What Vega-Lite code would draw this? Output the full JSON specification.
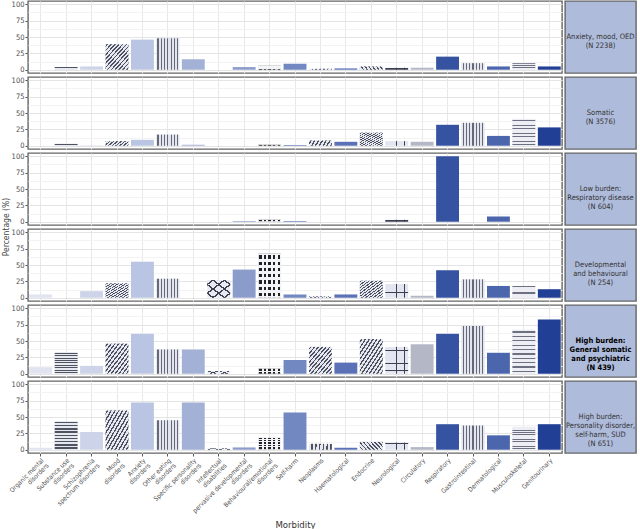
{
  "$schema": "https://vega.github.io/schema/vega-lite/v6.json",
  "padding": {"left": 1, "top": 0, "right": 1, "bottom": 1},
  "datasets": {
    "bars": [
      {"g":1,"c":"Organic mental|disorders","v":0},{"g":1,"c":"Substance use|disorders","v":4},{"g":1,"c":"Schizophrenia|spectrum disorders","v":5},{"g":1,"c":"Mood|disorders","v":39},{"g":1,"c":"Anxiety|disorders","v":46},{"g":1,"c":"Other eating|disorders","v":48},{"g":1,"c":"Specific personality|disorders","v":16},{"g":1,"c":"Intellectual|disabilities","v":0},{"g":1,"c":"pervasive developmental|disorders","v":4},{"g":1,"c":"Behavioural/emotional|disorders","v":6},{"g":1,"c":"Self-harm","v":9},{"g":1,"c":"Neoplasms","v":1.5},{"g":1,"c":"Haematological","v":2},{"g":1,"c":"Endocrine","v":5},{"g":1,"c":"Neurological","v":3},{"g":1,"c":"Circulatory","v":3},{"g":1,"c":"Respiratory","v":20},{"g":1,"c":"Gastrointestinal","v":10},{"g":1,"c":"Dermatological","v":5},{"g":1,"c":"Musculoskeletal","v":10},{"g":1,"c":"Genitourinary","v":5},
      {"g":2,"c":"Organic mental|disorders","v":0},{"g":2,"c":"Substance use|disorders","v":3},{"g":2,"c":"Schizophrenia|spectrum disorders","v":0.5},{"g":2,"c":"Mood|disorders","v":7},{"g":2,"c":"Anxiety|disorders","v":9},{"g":2,"c":"Other eating|disorders","v":17},{"g":2,"c":"Specific personality|disorders","v":1.5},{"g":2,"c":"Intellectual|disabilities","v":0},{"g":2,"c":"pervasive developmental|disorders","v":0},{"g":2,"c":"Behavioural/emotional|disorders","v":1.5},{"g":2,"c":"Self-harm","v":1},{"g":2,"c":"Neoplasms","v":8},{"g":2,"c":"Haematological","v":6},{"g":2,"c":"Endocrine","v":20},{"g":2,"c":"Neurological","v":7},{"g":2,"c":"Circulatory","v":6},{"g":2,"c":"Respiratory","v":32},{"g":2,"c":"Gastrointestinal","v":35},{"g":2,"c":"Dermatological","v":15},{"g":2,"c":"Musculoskeletal","v":41},{"g":2,"c":"Genitourinary","v":28},
      {"g":3,"c":"Organic mental|disorders","v":0},{"g":3,"c":"Substance use|disorders","v":0},{"g":3,"c":"Schizophrenia|spectrum disorders","v":0},{"g":3,"c":"Mood|disorders","v":0},{"g":3,"c":"Anxiety|disorders","v":0},{"g":3,"c":"Other eating|disorders","v":0},{"g":3,"c":"Specific personality|disorders","v":0},{"g":3,"c":"Intellectual|disabilities","v":0},{"g":3,"c":"pervasive developmental|disorders","v":1},{"g":3,"c":"Behavioural/emotional|disorders","v":3},{"g":3,"c":"Self-harm","v":1},{"g":3,"c":"Neoplasms","v":0},{"g":3,"c":"Haematological","v":0},{"g":3,"c":"Endocrine","v":0},{"g":3,"c":"Neurological","v":3},{"g":3,"c":"Circulatory","v":0},{"g":3,"c":"Respiratory","v":100},{"g":3,"c":"Gastrointestinal","v":0},{"g":3,"c":"Dermatological","v":8},{"g":3,"c":"Musculoskeletal","v":0},{"g":3,"c":"Genitourinary","v":0},
      {"g":4,"c":"Organic mental|disorders","v":5},{"g":4,"c":"Substance use|disorders","v":0},{"g":4,"c":"Schizophrenia|spectrum disorders","v":10},{"g":4,"c":"Mood|disorders","v":22},{"g":4,"c":"Anxiety|disorders","v":55},{"g":4,"c":"Other eating|disorders","v":29},{"g":4,"c":"Specific personality|disorders","v":0},{"g":4,"c":"Intellectual|disabilities","v":27},{"g":4,"c":"pervasive developmental|disorders","v":43},{"g":4,"c":"Behavioural/emotional|disorders","v":67},{"g":4,"c":"Self-harm","v":5},{"g":4,"c":"Neoplasms","v":2},{"g":4,"c":"Haematological","v":5},{"g":4,"c":"Endocrine","v":26},{"g":4,"c":"Neurological","v":21},{"g":4,"c":"Circulatory","v":3},{"g":4,"c":"Respiratory","v":42},{"g":4,"c":"Gastrointestinal","v":28},{"g":4,"c":"Dermatological","v":18},{"g":4,"c":"Musculoskeletal","v":18},{"g":4,"c":"Genitourinary","v":13},
      {"g":5,"c":"Organic mental|disorders","v":10},{"g":5,"c":"Substance use|disorders","v":33},{"g":5,"c":"Schizophrenia|spectrum disorders","v":12},{"g":5,"c":"Mood|disorders","v":46},{"g":5,"c":"Anxiety|disorders","v":61},{"g":5,"c":"Other eating|disorders","v":37},{"g":5,"c":"Specific personality|disorders","v":37},{"g":5,"c":"Intellectual|disabilities","v":4},{"g":5,"c":"pervasive developmental|disorders","v":0},{"g":5,"c":"Behavioural/emotional|disorders","v":8},{"g":5,"c":"Self-harm","v":21},{"g":5,"c":"Neoplasms","v":41},{"g":5,"c":"Haematological","v":17},{"g":5,"c":"Endocrine","v":53},{"g":5,"c":"Neurological","v":41},{"g":5,"c":"Circulatory","v":45},{"g":5,"c":"Respiratory","v":61},{"g":5,"c":"Gastrointestinal","v":73},{"g":5,"c":"Dermatological","v":32},{"g":5,"c":"Musculoskeletal","v":67},{"g":5,"c":"Genitourinary","v":83},
      {"g":6,"c":"Organic mental|disorders","v":3},{"g":6,"c":"Substance use|disorders","v":44},{"g":6,"c":"Schizophrenia|spectrum disorders","v":27},{"g":6,"c":"Mood|disorders","v":60},{"g":6,"c":"Anxiety|disorders","v":72},{"g":6,"c":"Other eating|disorders","v":45},{"g":6,"c":"Specific personality|disorders","v":72},{"g":6,"c":"Intellectual|disabilities","v":2},{"g":6,"c":"pervasive developmental|disorders","v":3.5},{"g":6,"c":"Behavioural/emotional|disorders","v":18},{"g":6,"c":"Self-harm","v":57},{"g":6,"c":"Neoplasms","v":9},{"g":6,"c":"Haematological","v":3},{"g":6,"c":"Endocrine","v":12},{"g":6,"c":"Neurological","v":11},{"g":6,"c":"Circulatory","v":4},{"g":6,"c":"Respiratory","v":39},{"g":6,"c":"Gastrointestinal","v":37},{"g":6,"c":"Dermatological","v":22},{"g":6,"c":"Musculoskeletal","v":35},{"g":6,"c":"Genitourinary","v":39}
    ],
    "strips": [
      {"g":1,"t":"Anxiety, mood, OED\n(N 2238)"},
      {"g":2,"t":"Somatic\n(N 3576)"},
      {"g":3,"t":"Low burden:\nRespiratory disease\n(N 604)"},
      {"g":4,"t":"Developmental\nand behavioural\n(N 254)"},
      {"g":5,"t":"High burden:\nGeneral somatic\nand psychiatric\n(N 439)"},
      {"g":6,"t":"High burden:\nPersonality disorder,\nself-harm, SUD\n(N 651)"}
    ]
  },
  "spacing": 1,
  "hconcat": [
    {
      "data": {"name": "bars"},
      "bounds": "flush",
      "facet": {"row": {"field": "g", "type": "ordinal", "title": "Percentage (%)",
        "header": {"labels": false, "labelPadding": 0, "titleOrient": "left", "titleFontSize": 8.5, "titleFontWeight": "normal", "titleColor": "#444", "titlePadding": -9}}},
      "spacing": {"row": 4},
      "spec": {
        "width": 534,
        "height": 72,
        "view": {"fill": "white", "stroke": "#666", "strokeWidth": 1.4},
        "encoding": {
          "x": {"field": "c", "type": "nominal", "title": "Morbidity",
            "scale": {"domain": ["Organic mental|disorders","Substance use|disorders","Schizophrenia|spectrum disorders","Mood|disorders","Anxiety|disorders","Other eating|disorders","Specific personality|disorders","Intellectual|disabilities","pervasive developmental|disorders","Behavioural/emotional|disorders","Self-harm","Neoplasms","Haematological","Endocrine","Neurological","Circulatory","Respiratory","Gastrointestinal","Dermatological","Musculoskeletal","Genitourinary"], "paddingInner": 0.1, "paddingOuter": 0.05},
            "axis": {"labelAngle": -45, "labelExpr": "split(datum.label, '|')", "grid": true, "bandPosition": 0.5, "labelFontSize": 6.5, "labelLineHeight": 7, "titlePadding": 1, "titleFontSize": 9.5, "labelPadding": 1}},
          "y": {"field": "v", "type": "quantitative", "title": null,
            "scale": {"domain": [-5, 105], "nice": false, "zero": false},
            "axis": {"values": [0, 12.5, 25, 37.5, 50, 62.5, 75, 87.5, 100],
              "labelExpr": "datum.value % 25 === 0 ? datum.label : ''",
              "tickOpacity": {"condition": {"test": "datum.value % 25 === 0", "value": 1}, "value": 0},
              "gridColor": {"condition": {"test": "datum.value % 25 === 0", "value": "#e4e4e4"}, "value": "#f3f3f3"},
              "labelFontSize": 7.5, "labelPadding": 1}}
        },
        "layer": [
          {"mark": {"type": "bar"},
           "encoding": {"color": {"field": "c", "type": "nominal", "legend": null,
             "scale": {"domain": ["Organic mental|disorders","Substance use|disorders","Schizophrenia|spectrum disorders","Mood|disorders","Anxiety|disorders","Other eating|disorders","Specific personality|disorders","Intellectual|disabilities","pervasive developmental|disorders","Behavioural/emotional|disorders","Self-harm","Neoplasms","Haematological","Endocrine","Neurological","Circulatory","Respiratory","Gastrointestinal","Dermatological","Musculoskeletal","Genitourinary"],
               "range": ["#e1e4f0","#e6e8f0","#cdd3e8","#e6e8f0","#b9c5e2","#e3e6ef","#a3b1d6","#e8eaf2","#8b9ccb","#222222","#7288c1","#e6e8f0","#5a71b7","#e6e8f0","#e3e6f0","#b3b7c6","#3553a1","#e3e6ef","#4b66ad","#eceef4","#213f94"]}}}},
          {"transform": [{"filter": {"field": "c", "oneOf": ["Other eating|disorders", "Gastrointestinal"]}}],
           "mark": {"type": "bar", "color": {"gradient": "linear", "x1": 0, "y1": 0, "x2": 1, "y2": 0, "stops": [
             {"offset":0,"color":"#e3e6ef"},
             {"offset":0.0464,"color":"#e3e6ef"},{"offset":0.0464,"color":"#646878"},{"offset":0.0964,"color":"#646878"},{"offset":0.0964,"color":"#e3e6ef"},
             {"offset":0.1893,"color":"#e3e6ef"},{"offset":0.1893,"color":"#646878"},{"offset":0.2393,"color":"#646878"},{"offset":0.2393,"color":"#e3e6ef"},
             {"offset":0.3321,"color":"#e3e6ef"},{"offset":0.3321,"color":"#646878"},{"offset":0.3821,"color":"#646878"},{"offset":0.3821,"color":"#e3e6ef"},
             {"offset":0.475,"color":"#e3e6ef"},{"offset":0.475,"color":"#646878"},{"offset":0.525,"color":"#646878"},{"offset":0.525,"color":"#e3e6ef"},
             {"offset":0.6179,"color":"#e3e6ef"},{"offset":0.6179,"color":"#646878"},{"offset":0.6679,"color":"#646878"},{"offset":0.6679,"color":"#e3e6ef"},
             {"offset":0.7607,"color":"#e3e6ef"},{"offset":0.7607,"color":"#646878"},{"offset":0.8107,"color":"#646878"},{"offset":0.8107,"color":"#e3e6ef"},
             {"offset":0.9036,"color":"#e3e6ef"},{"offset":0.9036,"color":"#646878"},{"offset":0.9536,"color":"#646878"},{"offset":0.9536,"color":"#e3e6ef"},
             {"offset":1,"color":"#e3e6ef"}]}}},
          {"transform": [{"filter": {"field": "c", "equal": "Substance use|disorders"}}],
           "mark": {"type": "bar", "color": {"gradient": "linear", "x1": 0, "y1": 0, "x2": 0, "y2": 1, "stops": [
             {"offset":0,"color":"#e6e8f0"},
             {"offset":0.0306,"color":"#e6e8f0"},{"offset":0.0306,"color":"#4f5260"},{"offset":0.0806,"color":"#4f5260"},{"offset":0.0806,"color":"#e6e8f0"},
             {"offset":0.1417,"color":"#e6e8f0"},{"offset":0.1417,"color":"#4f5260"},{"offset":0.1917,"color":"#4f5260"},{"offset":0.1917,"color":"#e6e8f0"},
             {"offset":0.2528,"color":"#e6e8f0"},{"offset":0.2528,"color":"#4f5260"},{"offset":0.3028,"color":"#4f5260"},{"offset":0.3028,"color":"#e6e8f0"},
             {"offset":0.3639,"color":"#e6e8f0"},{"offset":0.3639,"color":"#4f5260"},{"offset":0.4139,"color":"#4f5260"},{"offset":0.4139,"color":"#e6e8f0"},
             {"offset":0.475,"color":"#e6e8f0"},{"offset":0.475,"color":"#4f5260"},{"offset":0.525,"color":"#4f5260"},{"offset":0.525,"color":"#e6e8f0"},
             {"offset":0.5861,"color":"#e6e8f0"},{"offset":0.5861,"color":"#4f5260"},{"offset":0.6361,"color":"#4f5260"},{"offset":0.6361,"color":"#e6e8f0"},
             {"offset":0.6972,"color":"#e6e8f0"},{"offset":0.6972,"color":"#4f5260"},{"offset":0.7472,"color":"#4f5260"},{"offset":0.7472,"color":"#e6e8f0"},
             {"offset":0.8083,"color":"#e6e8f0"},{"offset":0.8083,"color":"#4f5260"},{"offset":0.8583,"color":"#4f5260"},{"offset":0.8583,"color":"#e6e8f0"},
             {"offset":0.9194,"color":"#e6e8f0"},{"offset":0.9194,"color":"#4f5260"},{"offset":0.9694,"color":"#4f5260"},{"offset":0.9694,"color":"#e6e8f0"},
             {"offset":1,"color":"#e6e8f0"}]}}},
          {"transform": [{"filter": {"field": "c", "equal": "Musculoskeletal"}}],
           "mark": {"type": "bar", "color": {"gradient": "linear", "x1": 0, "y1": 0, "x2": 0, "y2": 1, "stops": [
             {"offset":0,"color":"#eceef4"},
             {"offset":0.035,"color":"#eceef4"},{"offset":0.035,"color":"#6d7080"},{"offset":0.065,"color":"#6d7080"},{"offset":0.065,"color":"#eceef4"},
             {"offset":0.135,"color":"#eceef4"},{"offset":0.135,"color":"#6d7080"},{"offset":0.165,"color":"#6d7080"},{"offset":0.165,"color":"#eceef4"},
             {"offset":0.235,"color":"#eceef4"},{"offset":0.235,"color":"#6d7080"},{"offset":0.265,"color":"#6d7080"},{"offset":0.265,"color":"#eceef4"},
             {"offset":0.335,"color":"#eceef4"},{"offset":0.335,"color":"#6d7080"},{"offset":0.365,"color":"#6d7080"},{"offset":0.365,"color":"#eceef4"},
             {"offset":0.435,"color":"#eceef4"},{"offset":0.435,"color":"#6d7080"},{"offset":0.465,"color":"#6d7080"},{"offset":0.465,"color":"#eceef4"},
             {"offset":0.535,"color":"#eceef4"},{"offset":0.535,"color":"#6d7080"},{"offset":0.565,"color":"#6d7080"},{"offset":0.565,"color":"#eceef4"},
             {"offset":0.635,"color":"#eceef4"},{"offset":0.635,"color":"#6d7080"},{"offset":0.665,"color":"#6d7080"},{"offset":0.665,"color":"#eceef4"},
             {"offset":0.735,"color":"#eceef4"},{"offset":0.735,"color":"#6d7080"},{"offset":0.765,"color":"#6d7080"},{"offset":0.765,"color":"#eceef4"},
             {"offset":0.835,"color":"#eceef4"},{"offset":0.835,"color":"#6d7080"},{"offset":0.865,"color":"#6d7080"},{"offset":0.865,"color":"#eceef4"},
             {"offset":0.935,"color":"#eceef4"},{"offset":0.935,"color":"#6d7080"},{"offset":0.965,"color":"#6d7080"},{"offset":0.965,"color":"#eceef4"},
             {"offset":1,"color":"#eceef4"}]}}},
          {"transform": [{"filter": {"field": "c", "oneOf": ["Mood|disorders", "Neoplasms", "Endocrine"]}}],
           "mark": {"type": "bar", "color": {"gradient": "linear", "x1": 0, "y1": 0, "x2": 1, "y2": 1, "stops": [
             {"offset":0,"color":"#e6e8f0"},
             {"offset":0.025,"color":"#e6e8f0"},{"offset":0.025,"color":"#4c5060"},{"offset":0.0583,"color":"#4c5060"},{"offset":0.0583,"color":"#e6e8f0"},
             {"offset":0.1083,"color":"#e6e8f0"},{"offset":0.1083,"color":"#4c5060"},{"offset":0.1417,"color":"#4c5060"},{"offset":0.1417,"color":"#e6e8f0"},
             {"offset":0.1917,"color":"#e6e8f0"},{"offset":0.1917,"color":"#4c5060"},{"offset":0.225,"color":"#4c5060"},{"offset":0.225,"color":"#e6e8f0"},
             {"offset":0.275,"color":"#e6e8f0"},{"offset":0.275,"color":"#4c5060"},{"offset":0.3083,"color":"#4c5060"},{"offset":0.3083,"color":"#e6e8f0"},
             {"offset":0.3583,"color":"#e6e8f0"},{"offset":0.3583,"color":"#4c5060"},{"offset":0.3917,"color":"#4c5060"},{"offset":0.3917,"color":"#e6e8f0"},
             {"offset":0.4417,"color":"#e6e8f0"},{"offset":0.4417,"color":"#4c5060"},{"offset":0.475,"color":"#4c5060"},{"offset":0.475,"color":"#e6e8f0"},
             {"offset":0.525,"color":"#e6e8f0"},{"offset":0.525,"color":"#4c5060"},{"offset":0.5583,"color":"#4c5060"},{"offset":0.5583,"color":"#e6e8f0"},
             {"offset":0.6083,"color":"#e6e8f0"},{"offset":0.6083,"color":"#4c5060"},{"offset":0.6417,"color":"#4c5060"},{"offset":0.6417,"color":"#e6e8f0"},
             {"offset":0.6917,"color":"#e6e8f0"},{"offset":0.6917,"color":"#4c5060"},{"offset":0.725,"color":"#4c5060"},{"offset":0.725,"color":"#e6e8f0"},
             {"offset":0.775,"color":"#e6e8f0"},{"offset":0.775,"color":"#4c5060"},{"offset":0.8083,"color":"#4c5060"},{"offset":0.8083,"color":"#e6e8f0"},
             {"offset":0.8583,"color":"#e6e8f0"},{"offset":0.8583,"color":"#4c5060"},{"offset":0.8917,"color":"#4c5060"},{"offset":0.8917,"color":"#e6e8f0"},
             {"offset":0.9417,"color":"#e6e8f0"},{"offset":0.9417,"color":"#4c5060"},{"offset":0.975,"color":"#4c5060"},{"offset":0.975,"color":"#e6e8f0"},
             {"offset":1,"color":"#e6e8f0"}]}}},
          {"transform": [{"filter": {"field": "c", "equal": "Intellectual|disabilities"}}],
           "mark": {"type": "bar", "color": {"gradient": "linear", "x1": 0, "y1": 0, "x2": 1, "y2": 1, "stops": [
             {"offset":0,"color":"rgba(0,0,0,0)"},
             {"offset":0.1,"color":"rgba(0,0,0,0)"},{"offset":0.1,"color":"#3d4050"},{"offset":0.15,"color":"#3d4050"},{"offset":0.15,"color":"rgba(0,0,0,0)"},
             {"offset":0.35,"color":"rgba(0,0,0,0)"},{"offset":0.35,"color":"#3d4050"},{"offset":0.4,"color":"#3d4050"},{"offset":0.4,"color":"rgba(0,0,0,0)"},
             {"offset":0.6,"color":"rgba(0,0,0,0)"},{"offset":0.6,"color":"#3d4050"},{"offset":0.65,"color":"#3d4050"},{"offset":0.65,"color":"rgba(0,0,0,0)"},
             {"offset":0.85,"color":"rgba(0,0,0,0)"},{"offset":0.85,"color":"#3d4050"},{"offset":0.9,"color":"#3d4050"},{"offset":0.9,"color":"rgba(0,0,0,0)"},
             {"offset":1,"color":"rgba(0,0,0,0)"}]}}},
          {"transform": [{"filter": {"field": "c", "equal": "Intellectual|disabilities"}}],
           "mark": {"type": "bar", "color": {"gradient": "linear", "x1": 1, "y1": 0, "x2": 0, "y2": 1, "stops": [
             {"offset":0,"color":"rgba(0,0,0,0)"},
             {"offset":0.1,"color":"rgba(0,0,0,0)"},{"offset":0.1,"color":"#3d4050"},{"offset":0.15,"color":"#3d4050"},{"offset":0.15,"color":"rgba(0,0,0,0)"},
             {"offset":0.35,"color":"rgba(0,0,0,0)"},{"offset":0.35,"color":"#3d4050"},{"offset":0.4,"color":"#3d4050"},{"offset":0.4,"color":"rgba(0,0,0,0)"},
             {"offset":0.6,"color":"rgba(0,0,0,0)"},{"offset":0.6,"color":"#3d4050"},{"offset":0.65,"color":"#3d4050"},{"offset":0.65,"color":"rgba(0,0,0,0)"},
             {"offset":0.85,"color":"rgba(0,0,0,0)"},{"offset":0.85,"color":"#3d4050"},{"offset":0.9,"color":"#3d4050"},{"offset":0.9,"color":"rgba(0,0,0,0)"},
             {"offset":1,"color":"rgba(0,0,0,0)"}]}}},
          {"transform": [{"filter": {"field": "c", "equal": "Behavioural/emotional|disorders"}}],
           "mark": {"type": "bar", "color": {"gradient": "linear", "x1": 0, "y1": 0, "x2": 1, "y2": 0, "stops": [
             {"offset":0,"color":"#f3f4f8"},
             {"offset":0.05,"color":"#f3f4f8"},{"offset":0.05,"color":"rgba(0,0,0,0)"},{"offset":0.15,"color":"rgba(0,0,0,0)"},{"offset":0.15,"color":"#f3f4f8"},
             {"offset":0.25,"color":"#f3f4f8"},{"offset":0.25,"color":"rgba(0,0,0,0)"},{"offset":0.35,"color":"rgba(0,0,0,0)"},{"offset":0.35,"color":"#f3f4f8"},
             {"offset":0.45,"color":"#f3f4f8"},{"offset":0.45,"color":"rgba(0,0,0,0)"},{"offset":0.55,"color":"rgba(0,0,0,0)"},{"offset":0.55,"color":"#f3f4f8"},
             {"offset":0.65,"color":"#f3f4f8"},{"offset":0.65,"color":"rgba(0,0,0,0)"},{"offset":0.75,"color":"rgba(0,0,0,0)"},{"offset":0.75,"color":"#f3f4f8"},
             {"offset":0.85,"color":"#f3f4f8"},{"offset":0.85,"color":"rgba(0,0,0,0)"},{"offset":0.95,"color":"rgba(0,0,0,0)"},{"offset":0.95,"color":"#f3f4f8"},
             {"offset":1,"color":"#f3f4f8"}]}}},
          {"transform": [{"filter": {"field": "c", "equal": "Behavioural/emotional|disorders"}}],
           "mark": {"type": "bar", "color": {"gradient": "linear", "x1": 0, "y1": 0, "x2": 0, "y2": 1, "stops": [
             {"offset":0,"color":"#f3f4f8"},
             {"offset":0.0357,"color":"#f3f4f8"},{"offset":0.0357,"color":"rgba(0,0,0,0)"},{"offset":0.1071,"color":"rgba(0,0,0,0)"},{"offset":0.1071,"color":"#f3f4f8"},
             {"offset":0.1786,"color":"#f3f4f8"},{"offset":0.1786,"color":"rgba(0,0,0,0)"},{"offset":0.25,"color":"rgba(0,0,0,0)"},{"offset":0.25,"color":"#f3f4f8"},
             {"offset":0.3214,"color":"#f3f4f8"},{"offset":0.3214,"color":"rgba(0,0,0,0)"},{"offset":0.3929,"color":"rgba(0,0,0,0)"},{"offset":0.3929,"color":"#f3f4f8"},
             {"offset":0.4643,"color":"#f3f4f8"},{"offset":0.4643,"color":"rgba(0,0,0,0)"},{"offset":0.5357,"color":"rgba(0,0,0,0)"},{"offset":0.5357,"color":"#f3f4f8"},
             {"offset":0.6071,"color":"#f3f4f8"},{"offset":0.6071,"color":"rgba(0,0,0,0)"},{"offset":0.6786,"color":"rgba(0,0,0,0)"},{"offset":0.6786,"color":"#f3f4f8"},
             {"offset":0.75,"color":"#f3f4f8"},{"offset":0.75,"color":"rgba(0,0,0,0)"},{"offset":0.8214,"color":"rgba(0,0,0,0)"},{"offset":0.8214,"color":"#f3f4f8"},
             {"offset":0.8929,"color":"#f3f4f8"},{"offset":0.8929,"color":"rgba(0,0,0,0)"},{"offset":0.9643,"color":"rgba(0,0,0,0)"},{"offset":0.9643,"color":"#f3f4f8"},
             {"offset":1,"color":"#f3f4f8"}]}}},
          {"transform": [{"filter": {"field": "c", "equal": "Neurological"}}],
           "mark": {"type": "bar", "color": {"gradient": "linear", "x1": 0, "y1": 0, "x2": 1, "y2": 0, "stops": [
             {"offset":0,"color":"rgba(0,0,0,0)"},
             {"offset":0.15,"color":"rgba(0,0,0,0)"},{"offset":0.15,"color":"#3d4050"},{"offset":0.1833,"color":"#3d4050"},{"offset":0.1833,"color":"rgba(0,0,0,0)"},
             {"offset":0.4833,"color":"rgba(0,0,0,0)"},{"offset":0.4833,"color":"#3d4050"},{"offset":0.5167,"color":"#3d4050"},{"offset":0.5167,"color":"rgba(0,0,0,0)"},
             {"offset":0.8167,"color":"rgba(0,0,0,0)"},{"offset":0.8167,"color":"#3d4050"},{"offset":0.85,"color":"#3d4050"},{"offset":0.85,"color":"rgba(0,0,0,0)"},
             {"offset":1,"color":"rgba(0,0,0,0)"}]}}},
          {"transform": [{"filter": {"field": "c", "equal": "Neurological"}}],
           "mark": {"type": "bar", "color": {"gradient": "linear", "x1": 0, "y1": 0, "x2": 0, "y2": 1, "stops": [
             {"offset":0,"color":"rgba(0,0,0,0)"},
             {"offset":0.1125,"color":"rgba(0,0,0,0)"},{"offset":0.1125,"color":"#3d4050"},{"offset":0.1375,"color":"#3d4050"},{"offset":0.1375,"color":"rgba(0,0,0,0)"},
             {"offset":0.3625,"color":"rgba(0,0,0,0)"},{"offset":0.3625,"color":"#3d4050"},{"offset":0.3875,"color":"#3d4050"},{"offset":0.3875,"color":"rgba(0,0,0,0)"},
             {"offset":0.6125,"color":"rgba(0,0,0,0)"},{"offset":0.6125,"color":"#3d4050"},{"offset":0.6375,"color":"#3d4050"},{"offset":0.6375,"color":"rgba(0,0,0,0)"},
             {"offset":0.8625,"color":"rgba(0,0,0,0)"},{"offset":0.8625,"color":"#3d4050"},{"offset":0.8875,"color":"#3d4050"},{"offset":0.8875,"color":"rgba(0,0,0,0)"},
             {"offset":1,"color":"rgba(0,0,0,0)"}]}}}
        ]
      }
    },
    {
      "data": {"name": "strips"},
      "bounds": "flush",
      "facet": {"row": {"field": "g", "type": "ordinal", "title": null, "header": {"labels": false, "labelPadding": 0}}},
      "spacing": {"row": 4},
      "spec": {
        "width": 71,
        "height": 72,
        "view": {"fill": "#aebbdb", "stroke": "#666", "strokeWidth": 1.4},
        "layer": [
          {"transform": [{"filter": "datum.g != 5"}],
           "mark": {"type": "text", "lineBreak": "\n", "fontSize": 7.5, "color": "#333", "align": "center", "baseline": "middle", "lineHeight": 9},
           "encoding": {"text": {"field": "t"}}},
          {"transform": [{"filter": "datum.g == 5"}],
           "mark": {"type": "text", "lineBreak": "\n", "fontSize": 7.5, "color": "#000", "fontWeight": "bold", "align": "center", "baseline": "middle", "lineHeight": 9},
           "encoding": {"text": {"field": "t"}}}
        ]
      }
    }
  ],
  "config": {
    "font": "Liberation Sans Narrow, DejaVu Sans Condensed, Liberation Sans, sans-serif",
    "axis": {"labelFontSize": 8, "labelColor": "#4d4d4d", "tickColor": "#555", "tickSize": 3, "domain": false, "gridColor": "#e8e8e8", "titleFontWeight": "normal", "titleFontSize": 10, "titleColor": "#333"},
    "header": {"titleFontWeight": "normal"}
  }
}
